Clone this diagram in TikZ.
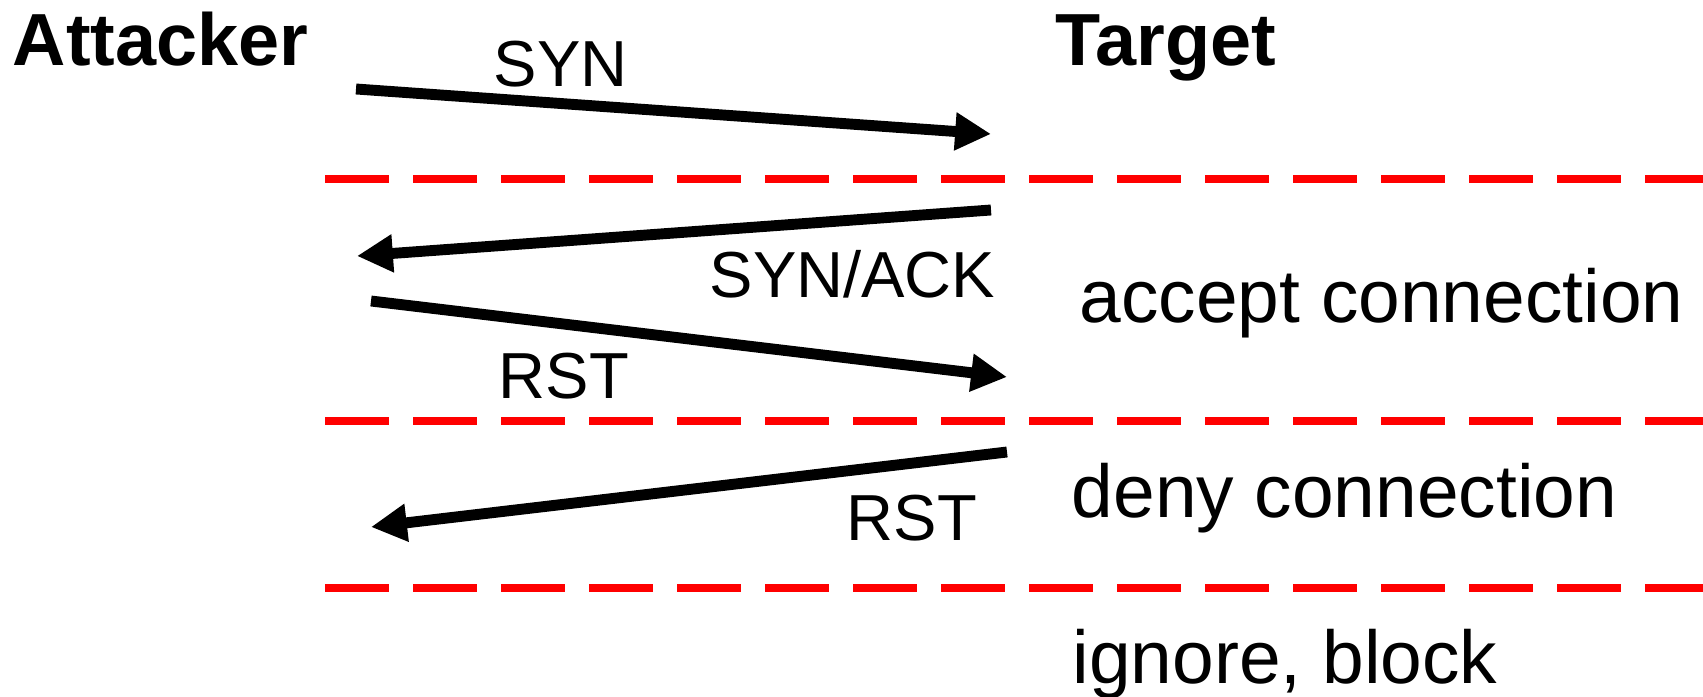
\documentclass[tikz,border=0pt]{standalone}
\usepackage{fontspec}
\setmainfont{Liberation Sans}
\usetikzlibrary{arrows.meta}
\begin{document}
\begin{tikzpicture}[x=0.01cm,y=-0.01cm,
  title/.style={inner sep=0pt,anchor=base west,font=\fontsize{21pt}{24pt}\selectfont\bfseries},
  msglabel/.style={inner sep=0pt,anchor=base west,font=\fontsize{18.5pt}{22pt}\selectfont},
  outcome/.style={inner sep=0pt,anchor=base west,font=\fontsize{21.3pt}{25pt}\selectfont},
  msg/.style={line width=3.1pt,-{Triangle[length=10.2pt,width=10.2pt]}},
  divider/.style={red,line width=2.3pt,dash pattern=on 18.2pt off 6.83pt}]
\useasboundingbox (0,0) rectangle (1703,697);

% participants
\node[title] (attacker) at (12,65) {Attacker};
\node[title] (target) at (1055,65) {Target};

% message end points
\coordinate (synA) at (356,89);
\coordinate (synT) at (991,134);
\coordinate (saT) at (991,210);
\coordinate (saA) at (357,256);
\coordinate (rstA) at (371,301);
\coordinate (rstT) at (1007,377);
\coordinate (rst2T) at (1007,452);
\coordinate (rst2A) at (371,527);

% section dividers
\coordinate (d1a) at (325,179); \coordinate (d1b) at (1703,179);
\coordinate (d2a) at (325,421); \coordinate (d2b) at (1703,421);
\coordinate (d3a) at (325,588); \coordinate (d3b) at (1703,588);
\draw[divider] (d1a) -- (d1b);
\draw[divider] (d2a) -- (d2b);
\draw[divider] (d3a) -- (d3b);

% messages
\draw[msg] (synA) -- (synT);
\draw[msg] (saT) -- (saA);
\draw[msg] (rstA) -- (rstT);
\draw[msg] (rst2T) -- (rst2A);

\node[msglabel] (lsyn) at (493,86) {SYN};
\node[msglabel] (lsa) at (709,297) {SYN/ACK};
\node[msglabel] (lrst) at (498,398) {RST};
\node[msglabel] (lrst2) at (846,540) {RST};

% outcomes
\node[outcome] (accept) at (1079,322) {accept connection};
\node[outcome] (deny) at (1071,517) {deny connection};
\node[outcome] (ignore) at (1072,683) {ignore, block};
\end{tikzpicture}
\end{document}
